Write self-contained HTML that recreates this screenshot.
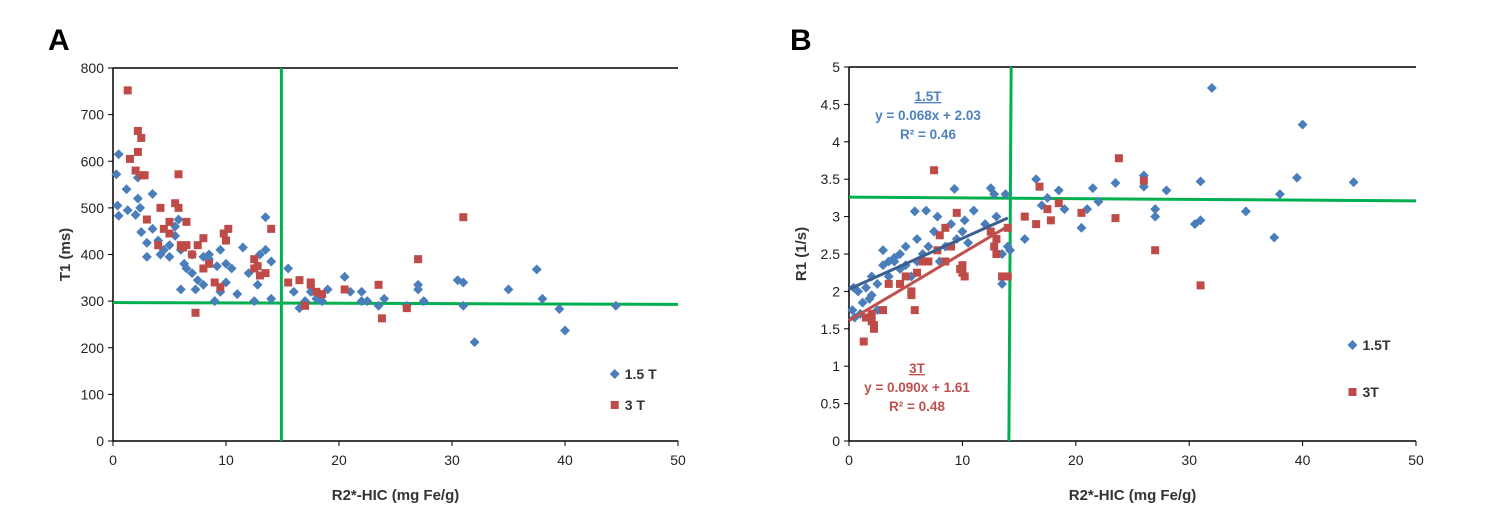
<!DOCTYPE html>
<html><head><meta charset="utf-8"><style>
body{margin:0;background:#fff;}
svg{display:block;font-family:"Liberation Sans",sans-serif;}
</style></head><body>
<svg id="c" width="1505" height="518"></svg>
<script>
const aBlueX=[0.3,0.5,0.4,0.5,1.2,1.3,2,2.2,2.4,2.2,2.5,3,3,3.5,3.5,4,4.2,4.5,5,5,5.5,5.5,5.8,6,6,6.3,6.5,7,7,7.3,7.5,8,8,8.5,8.5,9,9.2,9.5,9.5,10,10,10.5,11,11.5,12,12.5,12.8,13,13.5,13.5,14,14,15.5,16,16.5,17,17.5,18,18.5,19,20.5,21,22,22,22.5,23.5,24,26,27,27,27.5,30.5,31,31,32,35,37.5,38,39.5,40,44.5];
const aBlueY=[572,615,505,483,540,495,485,520,500,565,448,425,395,530,455,430,400,410,420,395,460,440,475,410,325,380,370,400,360,325,345,395,335,400,390,300,375,410,320,380,340,370,315,415,360,300,335,400,480,410,305,385,370,320,285,300,320,305,300,325,352,320,320,300,300,290,305,290,335,325,300,345,340,290,212,325,368,305,283,237,290];
const aRedX=[1.3,1.5,2,2.2,2.2,2.5,2.5,2.8,3,4,4.2,4.5,5,5,5.5,5.8,5.8,6,6.2,6.5,6.5,7,7.3,7.5,8,8,8.5,9,9.5,9.8,10,10.2,12.5,12.5,12.8,13,13.5,14,15.5,16.5,17,17.5,18,18.5,20.5,23.5,23.8,26,27,31,17.5];
const aRedY=[752,605,580,620,665,650,570,570,475,420,500,455,470,445,510,500,572,420,415,470,420,400,275,420,435,370,380,340,330,445,430,455,390,370,375,355,360,455,340,345,290,335,320,315,325,335,263,285,390,480,340];
const bBlueX=[0.3,0.4,0.5,0.8,1,1.2,1.5,1.8,2,2,2.5,2.5,3,3,3.5,3.5,4,4,4.5,4.5,5,5,5.5,5.8,6,6,6.5,6.8,7,7.5,7.8,8,8.5,9,9.3,9.5,10,10.2,10.5,11,12,12.5,12.8,13,13.5,13.8,14,15.5,16.5,17,17.5,18.5,19,20.5,21,21.5,22,23.5,26,26,27,27,28,30.5,31,31,32,35,37.5,38,39.5,40,44.5,14.2,13.5];
const bBlueY=[1.75,2.05,1.65,2.0,1.7,1.85,2.05,1.9,2.2,1.95,2.1,1.75,2.55,2.35,2.2,2.4,2.4,2.45,2.5,2.3,2.6,2.35,2.2,3.07,2.7,2.4,2.5,3.08,2.6,2.8,3.0,2.4,2.6,2.9,3.37,2.7,2.8,2.95,2.65,3.08,2.9,3.38,3.3,3.0,2.1,3.3,2.6,2.7,3.5,3.15,3.25,3.35,3.1,2.85,3.1,3.38,3.2,3.45,3.55,3.4,3.0,3.1,3.35,2.9,3.47,2.95,4.72,3.07,2.72,3.3,3.52,4.23,3.46,2.55,2.5];
const bRedX=[1.3,1.5,2,2,2.2,2.2,3,3.5,4.5,5,5.5,5.5,6,5.8,6.5,7,7.5,7.8,8,8.5,9,9.5,9.8,10,10.2,12.5,12.8,13,13,13.5,14,14,15.5,16.5,16.8,17.5,17.8,18.5,20.5,23.5,23.8,26,27,31,8.5,10];
const bRedY=[1.33,1.65,1.7,1.6,1.5,1.55,1.75,2.1,2.1,2.2,2.0,1.95,2.25,1.75,2.4,2.4,3.62,2.55,2.75,2.4,2.6,3.05,2.3,2.25,2.2,2.8,2.6,2.7,2.5,2.2,2.85,2.2,3.0,2.9,3.4,3.1,2.95,3.18,3.05,2.98,3.78,3.48,2.55,2.08,2.85,2.35];
const aXTicks=[0,10,20,30,40,50];
const aYTicks=[0,100,200,300,400,500,600,700,800];
const bYTicks=[0,0.5,1,1.5,2,2.5,3,3.5,4,4.5,5];
const fits=[[0.068,2.03],[0.090,1.61]];

const NS="http://www.w3.org/2000/svg";
const svg=document.getElementById('c');
function el(t,a,p){const e=document.createElementNS(NS,t);for(const k in a)e.setAttribute(k,a[k]);(p||svg).appendChild(e);return e;}
const BLUE="#4a7ebb",RED="#be4b48",GREEN="#00b050";

function panel(id,x0,x1,yTop,yBot,ymax,yTicks,bx,by,rx,ry,ytitle,letter,lx,legendY,legTxt,gV,gH){
  const sx=v=>x0+(x1-x0)*v/50, sy=v=>yBot-(yBot-yTop)*v/ymax;
  const g=el('g',{});
  
  
  let t=el('text',{x:lx,y:50,'font-size':30,'font-weight':'bold',fill:'#000'},g);t.textContent=letter;
  
  el('line',{x1:x0,y1:yTop,x2:x1,y2:yTop,stroke:'#000','stroke-width':1.5},g);
  el('line',{x1:x0,y1:yTop,x2:x0,y2:yBot,stroke:'#000','stroke-width':1.5},g);
  el('line',{x1:x0,y1:yBot,x2:x1,y2:yBot,stroke:'#000','stroke-width':1.5},g);
  aXTicks.forEach(v=>{el('line',{x1:sx(v),y1:yBot,x2:sx(v),y2:yBot+5,stroke:'#000'},g);
    const tt=el('text',{x:sx(v),y:yBot+24,'font-size':14,'text-anchor':'middle',fill:'#222'},g);tt.textContent=v;
    });
  yTicks.forEach(v=>{el('line',{x1:x0-5,y1:sy(v),x2:x0,y2:sy(v),stroke:'#000'},g);
    const tt=el('text',{x:x0-9,y:sy(v)+5,'font-size':14,'text-anchor':'end',fill:'#222'},g);tt.textContent=v;
    });
  t=el('text',{x:(x0+x1)/2,y:yBot+59,'font-size':15,'font-weight':'bold','text-anchor':'middle',fill:'#333'},g);t.textContent='R2*-HIC (mg Fe/g)';
  
  t=el('text',{x:0,y:0,'font-size':15,'font-weight':'bold','text-anchor':'middle',fill:'#333',transform:`translate(${x0-43},${(yTop+yBot)/2}) rotate(-90)`},g);t.textContent=ytitle;
  
  // green threshold lines
  let l=el('line',{x1:sx(gV[0]),y1:yTop,x2:sx(gV[1]),y2:yBot,stroke:GREEN,'stroke-width':3},g);
  
  l=el('line',{x1:x0,y1:sy(gH[0]),x2:x1,y2:sy(gH[1]),stroke:GREEN,'stroke-width':3},g);
  
  bx.forEach((v,i)=>{const p=el('rect',{x:sx(v)-3.5,y:sy(by[i])-3.5,width:7,height:7,fill:BLUE,transform:`rotate(45 ${sx(v)} ${sy(by[i])})`},g);
    });
  rx.forEach((v,i)=>{const p=el('rect',{x:sx(v)-4,y:sy(ry[i])-4,width:8,height:8,fill:RED},g);
    });
  // legend
  const lx0=sx(44.4);
  let d=el('rect',{x:lx0-3.5,y:legendY[0]-3.5,width:7,height:7,fill:BLUE,transform:`rotate(45 ${lx0} ${legendY[0]})`},g);
  
  t=el('text',{x:lx0+10,y:legendY[0]+5,'font-size':14,'font-weight':'bold',fill:'#333'},g);t.textContent=legTxt[0];
  
  d=el('rect',{x:lx0-4,y:legendY[1]-4,width:8,height:8,fill:RED},g);
  
  t=el('text',{x:lx0+10,y:legendY[1]+5,'font-size':14,'font-weight':'bold',fill:'#333'},g);t.textContent=legTxt[1];
  
  return {sx,sy,g};
}
panel('panel-a',113,678,68,441,800,aYTicks,aBlueX,aBlueY,aRedX,aRedY,'T1 (ms)','A',48,[374,405],['1.5 T','3 T'],[14.9,14.9],[297,293]);
const B=panel('panel-b',849,1416,67,441,5,bYTicks,bBlueX,bBlueY,bRedX,bRedY,'R1 (1/s)','B',790,[345,392],['1.5T','3T'],[14.3,14.1],[3.26,3.21]);
const cols=["#3b5f8f","#c0504d"];
fits.forEach((f,i)=>{const l=el('line',{x1:B.sx(0),y1:B.sy(f[1]),x2:B.sx(14),y2:B.sy(f[0]*14+f[1]),stroke:cols[i],'stroke-width':3},B.g);
  });
function ann(lines,x,y,c,name){lines.forEach((s,i)=>{const t=el('text',{x:x,y:y+i*19,'font-size':13.5,'font-weight':'bold','text-anchor':'middle',fill:c,'text-decoration':i==0?'underline':'none'},B.g);t.textContent=s;
  });}
ann(['1.5T','y = 0.068x + 2.03','R² = 0.46'],928,101,"#4f81bd",'annotation-1-5t');
ann(['3T','y = 0.090x + 1.61','R² = 0.48'],917,373,"#c0504d",'annotation-3t');
</script>
</body></html>
